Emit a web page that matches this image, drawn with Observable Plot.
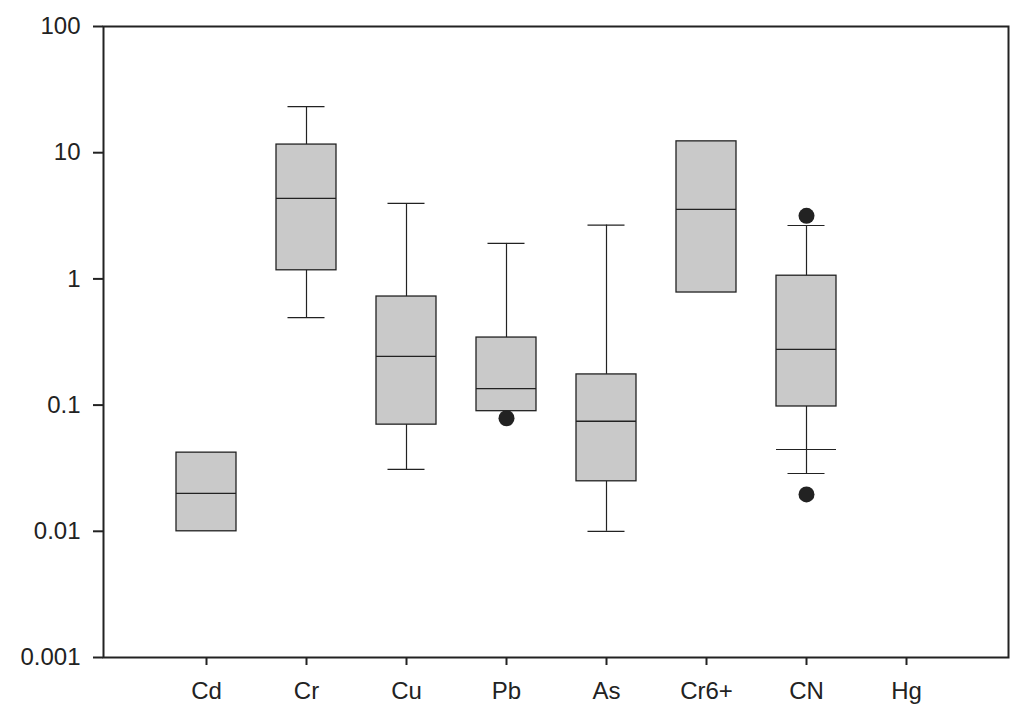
<!DOCTYPE html>
<html>
<head>
<meta charset="utf-8">
<script src="https://cdn.jsdelivr.net/npm/d3@7"></script>
<script src="https://cdn.jsdelivr.net/npm/@observablehq/plot@0.6"></script>
<style>
  html, body { margin: 0; padding: 0; background: #fff; }
  #chart svg { display: block; }
</style>
</head>
<body>
<div id="chart"></div>
<script>
const categories  = ["Cd", "Cr", "Cu", "Pb", "As", "Cr6+", "CN", "Hg"];
const q1          = [0.01,  1.17,  0.070, 0.0895, 0.0249, 0.78, 0.0975, null];
const median      = [0.02,  4.34,  0.243, 0.135,  0.0745, 3.55, 0.276,  null];
const q3          = [0.042, 11.6,  0.725, 0.343,  0.175,  12.3, 1.06,   null];
const whiskerLow  = [null,  0.494, 0.0309, null,  0.01,   null, 0.0287, null];
const whiskerHigh = [null,  23.2,  3.96,  1.91,   2.67,   null, 2.65,   null];
const tenthLine   = [null,  null,  null,  null,   null,   null, 0.0445, null];
const outlierCategory = ["Pb", "CN", "CN"];
const outlierValue    = [0.0787, 3.16, 0.0196];
const yTicks = [0.001, 0.01, 0.1, 1, 10, 100];

const rows = categories.map((c, i) => ({
  cat: c, q1: q1[i], med: median[i], q3: q3[i],
  lo: whiskerLow[i], hi: whiskerHigh[i], p10: tenthLine[i]
}));
const boxes = rows.filter(d => d.q1 != null);
const hiW = rows.filter(d => d.hi != null);
const loW = rows.filter(d => d.lo != null);
const p10 = rows.filter(d => d.p10 != null);
const outliers = outlierCategory.map((c, i) => ({cat: c, v: outlierValue[i]}));

const ink = "#222";
const capInset = 11.5;

const chart = Plot.plot({
  width: 1030,
  height: 722,
  marginLeft: 103,
  marginRight: 22,
  marginTop: 26,
  marginBottom: 65,
  style: {fontFamily: "'Liberation Sans', Arial, sans-serif", fontSize: "24px", color: ink, background: "#fff"},
  x: {type: "band", domain: categories, paddingInner: 0.4, paddingOuter: 0.7, align: 0.5},
  y: {type: "log", domain: [0.001, 100]},
  marks: [
    Plot.ruleX(hiW, {x: "cat", y1: "q3", y2: "hi", stroke: ink, strokeWidth: 1.2}),
    Plot.ruleX(loW, {x: "cat", y1: "lo", y2: "q1", stroke: ink, strokeWidth: 1.2}),
    Plot.tickY(hiW, {x: "cat", y: "hi", stroke: ink, strokeWidth: 1.2, insetLeft: capInset, insetRight: capInset}),
    Plot.tickY(loW, {x: "cat", y: "lo", stroke: ink, strokeWidth: 1.2, insetLeft: capInset, insetRight: capInset}),
    Plot.tickY(p10, {x: "cat", y: "p10", stroke: ink, strokeWidth: 1.2}),
    Plot.barY(boxes, {x: "cat", y1: "q1", y2: "q3", fill: "#c9c9c9", stroke: ink, strokeWidth: 1.3}),
    Plot.tickY(boxes, {x: "cat", y: "med", stroke: ink, strokeWidth: 1.3}),
    Plot.dot(outliers, {x: "cat", y: "v", r: 8, fill: ink, stroke: "none"}),
    Plot.axisY({ticks: yTicks, tickFormat: d => String(d), tickSize: 10, tickPadding: 13, strokeWidth: 2, stroke: ink, fill: ink, label: null, fontSize: 24}),
    Plot.axisX({tickSize: 8, tickPadding: 16, strokeWidth: 2, stroke: ink, fill: ink, label: null, fontSize: 24}),
    Plot.frame({stroke: ink, strokeWidth: 2})
  ]
});
document.getElementById("chart").appendChild(chart);
</script>
</body>
</html>
